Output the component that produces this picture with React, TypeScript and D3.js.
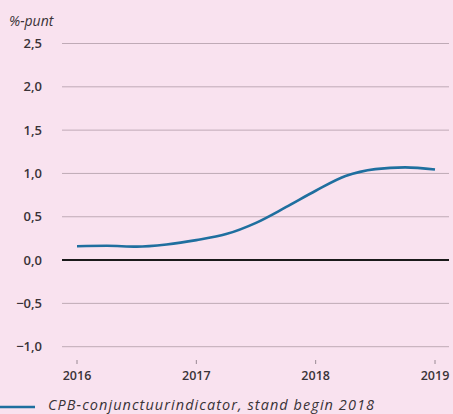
import React from 'react';
import * as d3 from 'd3';

// quarterly readings, years as decimals
const periods = [2016, 2016.25, 2016.5, 2016.75, 2017, 2017.25, 2017.5, 2017.75, 2018, 2018.25, 2018.5, 2018.75, 2019];
const indicator = [0.16, 0.165, 0.155, 0.18, 0.23, 0.3, 0.43, 0.61, 0.8, 0.97, 1.05, 1.07, 1.045];
const yTicks = [2.5, 2.0, 1.5, 1.0, 0.5, 0.0, -0.5, -1.0];
const xTicks = [2016, 2017, 2018, 2019];
const legendLabel = 'CPB-conjunctuurindicator, stand begin 2018';
const unitLabel = '%-punt';

const width = 453;
const height = 414;
const font = '"Open Sans", "DejaVu Sans", sans-serif';

export default function App() {
  const x = d3.scaleLinear().domain([2016, 2019]).range([77, 435]);
  const y = d3.scaleLinear().domain([-1, 2.5]).range([346.7, 43.5]);

  const line = d3
    .line<number>()
    .x((d, i) => x(periods[i]))
    .y((d) => y(d))
    .curve(d3.curveMonotoneX);

  const fmt = (v: number) => v.toFixed(1).replace('.', ',').replace('-', '\u2212');

  return (
    <svg
      width={width}
      height={height}
      style={{ position: 'absolute', left: 0, top: 0, background: '#f9e2ef' }}
      fontFamily={font}
    >
      <text x={9} y={26} fontSize={14} fontStyle="italic" fill="#3a3338">
        {unitLabel}
      </text>
      {yTicks.map((t) => (
        <g key={t}>
          <line
            x1={62}
            x2={449}
            y1={y(t)}
            y2={y(t)}
            stroke={t === 0 ? '#1a1a1a' : '#bfaab6'}
            strokeWidth={t === 0 ? 2 : 1}
          />
          <text
            x={42}
            y={y(t)}
            dy="0.35em"
            textAnchor="end"
            fontSize={13}
            fontWeight={600}
            fill="#3a3338"
          >
            {fmt(t)}
          </text>
        </g>
      ))}
      {xTicks.map((t) => (
        <g key={t}>
          <line x1={x(t)} x2={x(t)} y1={360} y2={364} stroke="#9a8a94" strokeWidth={1} />
          <text x={x(t)} y={380} textAnchor="middle" fontSize={12.5} fontWeight={600} fill="#3a3338">
            {t}
          </text>
        </g>
      ))}
      <path d={line(indicator) || ''} fill="none" stroke="#1f6f9f" strokeWidth={2.6} />
      <line x1={0} x2={35} y1={407} y2={407} stroke="#1f6f9f" strokeWidth={2.6} />
      <text x={48} y={410} fontSize={14.5} fontStyle="italic" fill="#3a3338" textLength={326} lengthAdjust="spacing">
        {legendLabel}
      </text>
    </svg>
  );
}
